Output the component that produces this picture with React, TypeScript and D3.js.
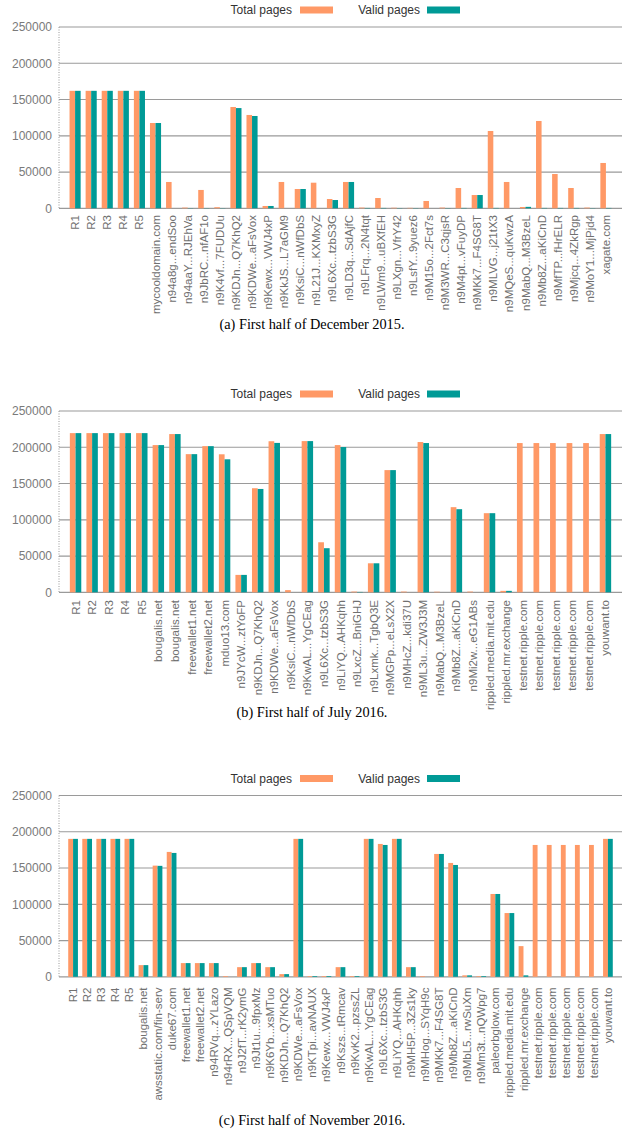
import React from "react";
import * as d3 from "d3";

// Panel (a) — First half of December 2015
const cats1 = ["R1","R2","R3","R4","R5","mycooldomain.com","n94a8g...endSoo","n94aaY...RJEhVa","n9JbRC...nfAF1o","n9K4vf...7FUDUu","n9KDJn...Q7KhQ2","n9KDWe...aFsVox","n9Kewx...VWJ4xP","n9KkJS...L7aGM9","n9KsiC...nWfDbS","n9L21J...KXMxyZ","n9L6Xc...tzbS3G","n9LD3q...SdAjfC","n9LFrq...2N4tqt","n9LWm9...uBXfEH","n9LXgn...VfrY42","n9LsfY...9yuez6","n9M15o...2Fct7s","n9M3WR...C3qjsR","n9M4pt...vFuyDP","n9MKk7...F4SG8T","n9MLVG...j21tX3","n9MQeS...quKwzA","n9MabQ...M3BzeL","n9Mb8Z...aKiCnD","n9MfTP...fHrELR","n9Mjcq...4ZkRgp","n9MoY1...MjPjd4","xagate.com"];
const total1 = [162000,162000,162000,162000,162000,117600,36300,1000,25300,1500,139700,128700,3200,36300,26600,35300,12800,36300,1000,14200,800,600,10100,1000,28000,18300,106600,36300,1800,120400,47300,28000,1000,62500];
const valid1 = [162000,162000,162000,162000,162000,117600,0,300,300,300,138200,127300,3200,0,26600,0,11400,36300,500,500,300,300,0,300,500,18300,500,0,2000,500,500,500,300,500];

// Panel (b) — First half of July 2016
const cats2 = ["R1","R2","R3","R4","R5","bougalis.net","bougalis.net","freewallet1.net","freewallet2.net","mduo13.com","n9JYcW...ztYoFP","n9KDJn...Q7KhQ2","n9KDWe...aFsVox","n9KsiC...nWfDbS","n9KwAL...YgCEag","n9L6Xc...tzbS3G","n9LiYQ...AHKqhh","n9LxcZ...BniGHJ","n9Lxmk...TgbQ3E","n9MGPp...eLsX2X","n9MHcZ...kdi37U","n9ML3u...ZW3J3M","n9MabQ...M3BzeL","n9Mb8Z...aKiCnD","n9Mi2w...eG1ABs","rippled.media.mit.edu","rippled.mr.exchange","testnet.ripple.com","testnet.ripple.com","testnet.ripple.com","testnet.ripple.com","testnet.ripple.com","youwant.to"];
const total2 = [219500,219500,219500,219500,219500,203000,218200,190500,201500,190300,24000,143500,208300,3000,208500,69000,203000,1000,40000,168500,1000,207200,800,117400,1000,109100,2000,205800,205800,205800,205800,205800,218200];
const valid2 = [219500,219500,219500,219500,219500,203000,218200,190500,201500,183400,24000,142500,206000,0,208500,60800,200300,500,40000,168500,0,205800,0,114600,0,109100,2000,0,0,0,0,0,218200];

// Panel (c) — First half of November 2016
const cats3 = ["R1","R2","R3","R4","R5","bougalis.net","awsstatic.com/fin-serv","duke67.com","freewallet1.net","freewallet2.net","n94RVq...zYLazo","n94rRX...QSpVQM","n9J2fT...rK2ymG","n9Jt1u...9fpxMz","n9K6Yb...xsMTuo","n9KDJn...Q7KhQ2","n9KDWe...aFsVox","n9KTpi...avNAUX","n9Kewx...VWJ4xP","n9Kszs...tRmcav","n9KvK2...pzssZL","n9KwAL...YgCEag","n9L6Xc...tzbS3G","n9LiYQ...AHKqhh","n9MH5P...3Zs1ky","n9MHog...SYqH9c","n9MKk7...F4SG8T","n9Mb8Z...aKiCnD","n9MbL5...rwSuXm","n9Mm3t...nQWpg7","paleorbglow.com","rippled.media.mit.edu","rippled.mr.exchange","testnet.ripple.com","testnet.ripple.com","testnet.ripple.com","testnet.ripple.com","testnet.ripple.com","youwant.to"];
const total3 = [190200,190200,190200,190200,190200,16100,153300,172200,18900,18900,18900,1000,13300,18900,13300,3700,190200,1000,1000,13300,1000,190200,183200,190200,13300,1000,169400,157000,2000,1000,114200,87900,42300,181800,181800,181800,181800,181800,190200];
const valid3 = [190200,190200,190200,190200,190200,16100,153000,170800,18900,18900,18900,0,13300,18900,13300,3700,190200,1000,1000,13300,1000,190200,181800,190200,13300,0,169400,154200,2000,1000,114200,87900,2000,0,0,0,0,0,190200];

const yTicks = [0, 50000, 100000, 150000, 200000, 250000];
const seriesNames = ["Total pages", "Valid pages"];
const captions = [
  "(a) First half of December 2015.",
  "(b) First half of July 2016.",
  "(c) First half of November 2016.",
];

const ORANGE = "#ff9966";
const TEAL = "#009a96";
const SANS = "'Liberation Sans', Arial, Helvetica, sans-serif";
const SERIF = "'Liberation Serif', 'Times New Roman', serif";

type PanelProps = { top: number; labelOff: number; cats: string[]; total: number[]; valid: number[] };

function Panel({ top, labelOff, cats, total, valid }: PanelProps) {
  const n = cats.length;
  const left = 59, right = 622;
  const x = d3.scaleLinear().domain([-1, n]).range([left, right]);
  const y = d3.scaleLinear().domain([0, 250000]).range([top + 208.3, top + 27]);
  const step = x(1) - x(0);
  const bw = step * 0.345;
  return (
    <g>
      {/* legend */}
      <text x={292} y={top + 14} textAnchor="end" fontFamily={SANS} fontSize={12} fill="#333">{seriesNames[0]}</text>
      <rect x={300} y={top + 6.5} width={33} height={7} fill={ORANGE} />
      <text x={420} y={top + 14} textAnchor="end" fontFamily={SANS} fontSize={12} fill="#333">{seriesNames[1]}</text>
      <rect x={427} y={top + 6.5} width={33} height={7} fill={TEAL} />
      {/* grid */}
      {yTicks.map((t) => (
        <g key={t}>
          <line x1={left} x2={right} y1={y(t)} y2={y(t)} stroke="#9a9a9a" strokeWidth={1.2} />
          <text x={52} y={y(t)} dy="0.36em" textAnchor="end" fontFamily={SANS} fontSize={12} fill="#7a7a7a">{t}</text>
        </g>
      ))}
      <line x1={left} x2={left} y1={y(250000)} y2={y(0)} stroke="#999" strokeWidth={1} strokeDasharray="1,1.5" />
      {/* bars */}
      {cats.map((c, i) => (
        <g key={i}>
          <rect x={x(i) - bw} y={y(total[i])} width={bw} height={y(0) - y(total[i])} fill={ORANGE} />
          <rect x={x(i)} y={y(valid[i])} width={bw} height={y(0) - y(valid[i])} fill={TEAL} />
          <text
            transform={`translate(${x(i)},${top + labelOff}) rotate(-90)`}
            textAnchor="end"
            dy="0.35em"
            fontFamily={SANS}
            fontSize={11.5}
            fill="#707070"
          >
            {c}
          </text>
        </g>
      ))}
    </g>
  );
}

export default function App() {
  const panels = [
    { top: 0, labelOff: 215, cats: cats1, total: total1, valid: valid1, cap: 329 },
    { top: 384, labelOff: 216, cats: cats2, total: total2, valid: valid2, cap: 717 },
    { top: 768.5, labelOff: 219, cats: cats3, total: total3, valid: valid3, cap: 1125 },
  ];
  return (
    <svg
      width={624}
      height={1142}
      viewBox="0 0 624 1142"
      style={{ position: "absolute", left: 0, top: 0, background: "#fff" }}
    >
      <rect x={0} y={0} width={624} height={1142} fill="#fff" />
      {panels.map((p, k) => (
        <g key={k}>
          <Panel top={p.top} labelOff={p.labelOff} cats={p.cats} total={p.total} valid={p.valid} />
          <text x={312} y={p.cap} textAnchor="middle" fontFamily={SERIF} fontSize={14.3} fill="#000">
            {captions[k]}
          </text>
        </g>
      ))}
    </svg>
  );
}
